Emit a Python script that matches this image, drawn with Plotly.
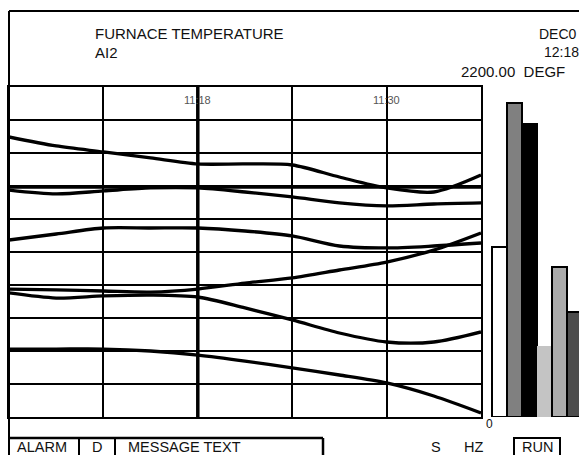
import plotly.graph_objects as go

# ---------------- data ----------------
TIMES = ["11:06", "11:09", "11:12", "11:15", "11:18", "11:21",
         "11:24", "11:27", "11:30", "11:33", "11:36"]
SERIES_A = [1867, 1807, 1767, 1727, 1687, 1687, 1680, 1600, 1527, 1500, 1613]
SERIES_B = [1533, 1533, 1533, 1533, 1533, 1533, 1533, 1533, 1533, 1533, 1533]
SERIES_C = [1513, 1487, 1507, 1527, 1527, 1500, 1467, 1427, 1407, 1420, 1427]
SERIES_D = [1180, 1220, 1260, 1260, 1260, 1240, 1207, 1140, 1127, 1140, 1160]
SERIES_E = [853, 847, 840, 833, 853, 893, 927, 980, 1033, 1113, 1227]
SERIES_F = [827, 793, 807, 813, 800, 727, 647, 560, 500, 500, 567]
SERIES_G = [453, 453, 453, 440, 413, 373, 327, 280, 227, 140, 27]

GRID_TIMES = ["11:12", "11:18", "11:24", "11:30"]
TICK_TIMES = ["11:18", "11:30"]
TICK_LABELS = ["11:18", "11:30"]
CURSOR_TIME = "11:18"
SCALE_MIN = 0
SCALE_MAX = 2200
SCALE_UNITS = "DEGF"
TITLE = "FURNACE TEMPERATURE"
TAG = "AI2"
DATE_TEXT = "DEC0"
CLOCK_TEXT = "12:18"

BAR_VALUES = [1133, 2093, 1953, 473, 1000, 700]

# ---------------- styles ----------------
BAR_COLORS = ["#ffffff", "#808080", "#000000", "#c4c4c4", "#ababab", "#4d4d4d"]
BAR_LINE_W = [2, 2, 2, 0, 2, 2]
FONT = "Liberation Sans, Arial, sans-serif"
W, H = 579, 455


def minutes(t):
    h, m = t.split(":")
    return int(h) * 60 + int(m)


def px(x):
    return x / W


def py(y):
    return 1 - y / H


X = [minutes(t) for t in TIMES]
x0, x1 = X[0], X[-1]

fig = go.Figure()

for s in [SERIES_A, SERIES_B, SERIES_C, SERIES_D, SERIES_E, SERIES_F, SERIES_G]:
    fig.add_trace(go.Scatter(x=X, y=s, mode="lines",
                             line=dict(color="black", width=3.3, shape="spline", smoothing=0.8),
                             hoverinfo="skip", showlegend=False))

# pointer at current value of series C
fig.add_trace(go.Scatter(x=[x1, x1 + 0.78], y=[SERIES_C[-1], SERIES_C[-1]],
                         mode="lines+markers",
                         line=dict(color="black", width=2),
                         marker=dict(symbol="triangle-left", size=[0, 12], color="#555555",
                                     line=dict(color="black", width=1)),
                         cliponaxis=False, showlegend=False, hoverinfo="skip"))

# bars
fig.add_trace(go.Bar(x=list(range(len(BAR_VALUES))), y=BAR_VALUES, xaxis="x2", yaxis="y2",
                     width=1,
                     marker=dict(color=BAR_COLORS, line=dict(color="black", width=BAR_LINE_W)),
                     showlegend=False, hoverinfo="skip"))

dom_y = [py(417), py(87)]

fig.update_layout(
    width=W, height=H,
    margin=dict(l=0, r=0, t=0, b=0),
    paper_bgcolor="white", plot_bgcolor="white",
    bargap=0,
    font=dict(family=FONT, color="#111111"),
    xaxis=dict(domain=[px(9), px(481)], range=[x0, x1],
               tickvals=[minutes(t) for t in GRID_TIMES], showticklabels=False, ticks="",
               showgrid=True, gridcolor="black", gridwidth=1.6,
               showline=True, mirror=True, linecolor="black", linewidth=2,
               zeroline=False, fixedrange=True),
    yaxis=dict(domain=dom_y, range=[SCALE_MIN, SCALE_MAX], tick0=0, dtick=(SCALE_MAX - SCALE_MIN) / 10,
               showticklabels=False, ticks="",
               showgrid=True, gridcolor="black", gridwidth=1.6,
               showline=True, mirror=True, linecolor="black", linewidth=2,
               zeroline=False, fixedrange=True),
    xaxis2=dict(domain=[px(490), 1], range=[-0.633, 5.3], visible=False, anchor="y2", fixedrange=True),
    yaxis2=dict(domain=dom_y, range=[SCALE_MIN, SCALE_MAX], visible=False, anchor="x2", fixedrange=True),
)

shapes = []


def seg(xa, ya, xb, yb, w=2):
    shapes.append(dict(type="line", xref="paper", yref="paper",
                       x0=px(xa), y0=py(ya), x1=px(xb), y1=py(yb),
                       line=dict(color="black", width=w)))


seg(9, 11, 579, 11, 2)        # top frame
seg(9, 11, 9, 455, 2)         # left frame
seg(9, 438, 323, 438, 2.5)    # message bar top
seg(323, 438, 323, 456, 2.5)
seg(79, 438, 79, 456, 2)
seg(115, 438, 115, 456, 2)
shapes.append(dict(type="rect", xref="paper", yref="paper",
                   x0=px(514), y0=py(458), x1=px(560), y1=py(438),
                   line=dict(color="black", width=2)))
# cursor
shapes.append(dict(type="line", xref="x", yref="paper",
                   x0=minutes(CURSOR_TIME), x1=minutes(CURSOR_TIME), y0=dom_y[0], y1=dom_y[1],
                   line=dict(color="black", width=3.5), layer="above"))
fig.update_layout(shapes=shapes)

ann = []


def text(t, x, y, size=15, anchor="left", color="#111111"):
    ann.append(dict(text=t, xref="paper", yref="paper", x=px(x), y=py(y),
                    xanchor=anchor, yanchor="middle", showarrow=False,
                    font=dict(size=size, color=color, family=FONT)))


text(TITLE, 93, 34)
text(TAG, 93, 52)
text(DATE_TEXT, 537, 34, size=14)
text(CLOCK_TEXT, 542, 52, size=14)
text(f"{SCALE_MAX:.2f}  {SCALE_UNITS}", 459, 71)
text(str(SCALE_MIN), 489, 424, size=12, anchor="center")
text("ALARM", 42, 447, size=14.5, anchor="center")
text("D", 97, 447, size=14.5, anchor="center")
text("MESSAGE TEXT", 126, 447, size=14.5)
text("S", 436, 447, size=14.5, anchor="center")
text("HZ", 473, 447, size=14.5, anchor="center")
text("RUN", 537, 447, size=14.5, anchor="center")

for tv, tl in zip(TICK_TIMES, TICK_LABELS):
    ann.append(dict(text=tl, xref="x", yref="paper", x=minutes(tv), y=py(100),
                    xanchor="center", yanchor="middle", showarrow=False,
                    font=dict(size=11, color="#555555", family=FONT)))

fig.update_layout(annotations=ann)

fig.write_html("out.html",
               config={"displayModeBar": False},
               post_script="document.body.style.margin='0px';document.body.style.padding='0px';")
